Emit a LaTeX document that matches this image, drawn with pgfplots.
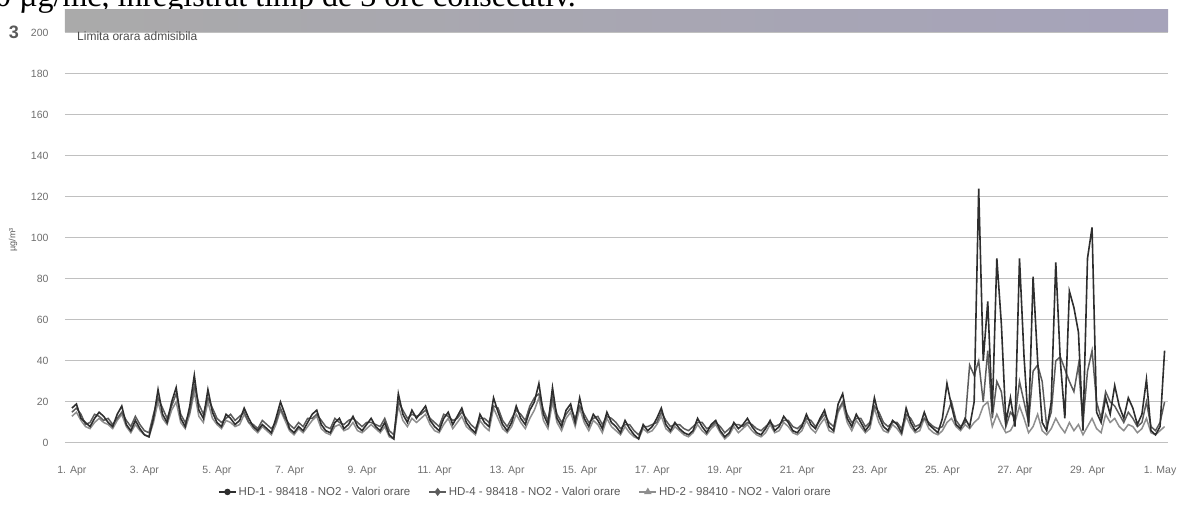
\documentclass[border=0pt]{standalone}
\usepackage{pgfplots}
\pgfplotsset{compat=1.18}
\usepackage{pgfplotstable}
\usepackage{fontspec}
\setmainfont{Liberation Sans}
\newfontfamily\serifscan{Liberation Serif}
\definecolor{sA}{HTML}{2E2E2E}
\definecolor{sB}{HTML}{5C5C5C}
\definecolor{sC}{HTML}{8E8E8E}
\definecolor{gridc}{HTML}{C0C0C0}
\definecolor{bandL}{HTML}{AAAAAA}
\definecolor{bandM}{HTML}{A8A5B6}
\definecolor{bandR}{HTML}{A6A3BA}
\definecolor{labc}{HTML}{6E6E6E}

% 3-hourly values, 1 Apr 00:00 onwards (x = index * 0.125 day)
\pgfplotstableread[row sep=\\]{
v\\
17\\19\\12\\10\\8\\12\\15\\13\\
10\\8\\14\\18\\9\\6\\11\\7\\
4\\3\\12\\26\\14\\10\\20\\27\\
12\\8\\18\\33\\16\\12\\26\\15\\
10\\8\\14\\12\\9\\11\\17\\12\\
8\\6\\9\\7\\5\\12\\20\\14\\
7\\5\\8\\6\\10\\14\\16\\9\\
6\\5\\10\\12\\7\\9\\13\\8\\
6\\9\\12\\8\\6\\10\\4\\2\\
24\\14\\10\\16\\12\\15\\18\\11\\
8\\6\\12\\15\\9\\13\\17\\10\\
7\\5\\14\\10\\8\\22\\15\\9\\
6\\10\\18\\12\\9\\16\\20\\29\\
14\\9\\27\\12\\8\\16\\19\\10\\
22\\12\\8\\14\\11\\7\\15\\10\\
8\\5\\11\\7\\4\\2\\9\\6\\
8\\12\\17\\9\\6\\10\\7\\5\\
4\\6\\12\\8\\5\\9\\11\\6\\
3\\5\\10\\7\\9\\12\\8\\5\\
4\\7\\11\\6\\8\\13\\10\\6\\
5\\8\\14\\9\\7\\12\\16\\8\\
6\\19\\24\\12\\8\\14\\10\\6\\
9\\22\\13\\8\\6\\11\\9\\5\\
17\\10\\6\\8\\15\\9\\7\\5\\
12\\29\\18\\9\\7\\12\\8\\20\\
124\\40\\69\\15\\90\\58\\10\\22\\
8\\90\\42\\8\\81\\40\\10\\6\\
20\\88\\40\\12\\74\\66\\54\\6\\
90\\105\\15\\10\\22\\14\\28\\18\\
12\\22\\17\\9\\14\\31\\6\\4\\
8\\45\\
}\sone

\pgfplotstableread[row sep=\\]{
v\\
15\\17\\14\\9\\10\\14\\13\\11\\
12\\9\\12\\15\\11\\8\\13\\9\\
6\\5\\14\\22\\17\\12\\18\\24\\
14\\10\\15\\28\\19\\14\\22\\17\\
12\\10\\12\\14\\11\\13\\15\\10\\
9\\7\\11\\9\\7\\10\\17\\12\\
9\\7\\10\\8\\12\\12\\14\\11\\
8\\7\\12\\10\\9\\11\\12\\10\\
8\\10\\10\\9\\8\\12\\6\\4\\
20\\16\\12\\14\\13\\14\\16\\12\\
10\\8\\14\\13\\11\\12\\15\\12\\
9\\7\\12\\12\\10\\18\\17\\11\\
8\\12\\16\\14\\11\\18\\22\\24\\
16\\11\\22\\14\\10\\14\\17\\12\\
18\\14\\10\\12\\13\\9\\13\\12\\
10\\7\\9\\9\\6\\4\\8\\8\\
9\\10\\15\\11\\8\\9\\9\\7\\
6\\8\\10\\10\\7\\8\\10\\8\\
5\\7\\9\\9\\8\\10\\9\\7\\
6\\8\\10\\8\\9\\11\\11\\8\\
7\\9\\12\\11\\8\\11\\14\\10\\
8\\16\\20\\14\\10\\12\\12\\8\\
10\\18\\15\\10\\8\\10\\10\\7\\
14\\12\\8\\9\\12\\10\\8\\7\\
8\\14\\20\\11\\8\\10\\38\\33\\
40\\20\\45\\12\\30\\25\\8\\15\\
12\\30\\20\\10\\35\\38\\30\\8\\
15\\40\\42\\36\\30\\25\\38\\10\\
35\\45\\20\\12\\25\\20\\18\\14\\
10\\15\\12\\8\\10\\20\\8\\6\\
10\\20\\
}\stwo

\pgfplotstableread[row sep=\\]{
v\\
13\\15\\11\\8\\7\\10\\12\\10\\
9\\7\\11\\14\\8\\5\\9\\6\\
4\\3\\10\\20\\12\\9\\16\\20\\
10\\7\\14\\25\\13\\10\\20\\12\\
9\\7\\11\\10\\8\\9\\14\\10\\
7\\5\\8\\6\\4\\9\\16\\11\\
6\\4\\7\\5\\8\\11\\13\\7\\
5\\4\\8\\9\\6\\7\\10\\6\\
5\\7\\9\\7\\5\\8\\3\\2\\
18\\11\\8\\12\\10\\12\\14\\9\\
6\\5\\9\\12\\7\\10\\13\\8\\
6\\4\\11\\8\\6\\17\\12\\7\\
5\\8\\14\\10\\7\\12\\16\\22\\
11\\7\\20\\10\\6\\12\\15\\8\\
17\\10\\6\\11\\9\\5\\12\\8\\
6\\4\\8\\5\\3\\2\\7\\5\\
6\\9\\13\\7\\5\\8\\6\\4\\
3\\5\\9\\6\\4\\7\\9\\5\\
2\\4\\8\\5\\7\\9\\6\\4\\
3\\5\\9\\5\\6\\10\\8\\5\\
4\\6\\11\\7\\5\\9\\12\\6\\
5\\15\\19\\10\\6\\11\\8\\5\\
7\\17\\10\\6\\5\\9\\7\\4\\
13\\8\\5\\6\\12\\7\\5\\4\\
6\\10\\12\\8\\6\\9\\7\\10\\
12\\18\\20\\8\\14\\9\\5\\6\\
10\\18\\12\\5\\8\\14\\6\\4\\
7\\12\\8\\5\\10\\6\\9\\4\\
8\\12\\7\\5\\14\\10\\12\\8\\
6\\9\\8\\5\\7\\12\\5\\4\\
6\\8\\
}\sthree

\begin{document}
\begin{tikzpicture}
\useasboundingbox (0,0) rectangle (1177pt,505pt);
\node[anchor=base west, inner sep=0pt, font=\serifscan\fontsize{32}{32}\selectfont] at (-5pt,498pt) {0 µg/mc, înregistrat timp de 3 ore consecutiv.};
\node[font=\bfseries\fontsize{18}{18}\selectfont, text=black!65] at (14pt,473pt) {3};
\begin{axis}[
  at={(65pt,62pt)}, anchor=south west, scale only axis,
  width=1103pt, height=433pt,
  xmin=-0.19, xmax=30.22, ymin=0, ymax=211,
  axis line style={draw=none},
  major tick length=0pt,
  ymajorgrids, grid style={gridc, line width=1pt},
  ytick={0,20,...,200},
  xtick={0,2,...,30},
  xticklabels={1. Apr,3. Apr,5. Apr,7. Apr,9. Apr,11. Apr,13. Apr,15. Apr,17. Apr,19. Apr,21. Apr,23. Apr,25. Apr,27. Apr,29. Apr,1. May},
  tick label style={font=\fontsize{10.5}{12}\selectfont, text=labc},
  /pgf/number format/assume math mode=true,
  yticklabel style={anchor=east, xshift=-13pt},
  xticklabel style={anchor=center, yshift=-28pt},
  legend columns=3,
  legend style={at={(axis description cs:0.4175,-0.113)}, anchor=center, draw=none, fill=none,
    font=\fontsize{11.5}{12}\selectfont, text=black!65,
    /tikz/every even column/.append style={column sep=16pt}},
]
\fill[left color=bandL, middle color=bandM, right color=bandR] (axis cs:-0.19,200.5) rectangle (axis cs:30.22,211);
\node[anchor=west, font=\fontsize{12}{13}\selectfont, text=black!70] at (axis cs:0.05,198.3) {Limita orara admisibila};
\addplot[sC, line width=1.5pt, forget plot] table[x expr=\coordindex*0.125, y=v] {\sthree};
\addplot[sB, line width=1.5pt, forget plot] table[x expr=\coordindex*0.125, y=v] {\stwo};
\addplot[sA, line width=1.6pt, forget plot] table[x expr=\coordindex*0.125, y=v] {\sone};
\addlegendimage{sA, line width=1.4pt, mark=*, mark size=2.5pt}
\addlegendentry{HD-1 - 98418 - NO2 - Valori orare}
\addlegendimage{sB, line width=1.4pt, mark=diamond*, mark size=3pt}
\addlegendentry{HD-4 - 98418 - NO2 - Valori orare}
\addlegendimage{sC, line width=1.4pt, mark=triangle*, mark size=3pt}
\addlegendentry{HD-2 - 98410 - NO2 - Valori orare}
\end{axis}
\node[rotate=90, font=\fontsize{9}{10}\selectfont, text=black!65] at (13pt,265pt) {µg/m³};
\end{tikzpicture}
\end{document}
